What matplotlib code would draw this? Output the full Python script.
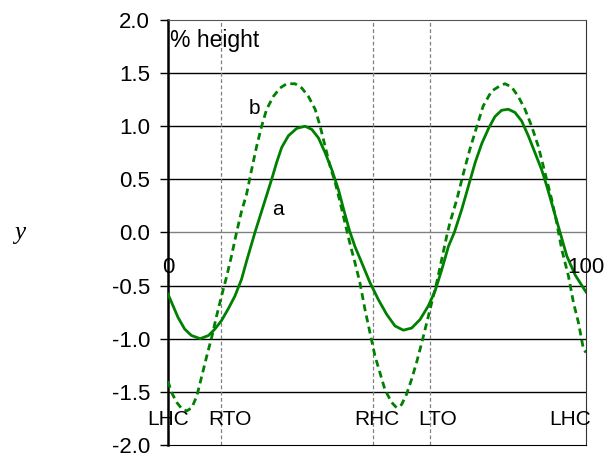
import matplotlib
matplotlib.use("Agg")
import matplotlib.pyplot as plt

# data (percent of gait cycle, % height)
xa = [0, 1.2, 2.4, 4.0, 5.6, 7.7, 9.7, 11.2, 12.8, 14.4, 16.0, 17.6, 18.8, 20.8, 22.8,
      24.8, 26.0, 27.2, 28.8, 30.8, 32.8, 34.4, 36.0, 37.6, 39.2, 40.8, 42.0, 43.4, 44.7,
      46.3, 48.3, 50.3, 52.3, 54.3, 56.3, 58.3, 60.3, 62.3, 63.9, 65.5, 67.1, 68.5, 70.3,
      71.9, 73.5, 75.1, 76.7, 78.2, 79.8, 81.4, 83.0, 84.6, 86.2, 87.8, 89.4, 90.6, 92.2,
      93.8, 95.4, 97.4, 100]
ya = [-0.58, -0.69, -0.80, -0.91, -0.97, -1.00, -0.97, -0.91, -0.83, -0.72, -0.60, -0.44, -0.27, 0.00, 0.25,
      0.50, 0.66, 0.80, 0.91, 0.98, 1.00, 0.97, 0.89, 0.75, 0.59, 0.40, 0.22, 0.02, -0.13,
      -0.28, -0.47, -0.63, -0.77, -0.88, -0.92, -0.90, -0.82, -0.69, -0.55, -0.35, -0.13, 0.00, 0.22,
      0.44, 0.66, 0.84, 0.98, 1.09, 1.15, 1.16, 1.13, 1.05, 0.91, 0.75, 0.59, 0.44, 0.22,
      0.00, -0.22, -0.40, -0.56]

xb = [0, 0.9, 2.1, 3.3, 4.5, 5.7, 6.9, 8.1, 9.3, 10.5, 11.6, 12.8, 14.0, 15.2, 16.4,
      17.6, 18.8, 20.0, 21.2, 22.4, 23.6, 25.2, 26.8, 28.4, 30.4, 32.0, 33.6, 35.2, 36.4,
      37.6, 38.8, 40.0, 41.2, 42.4, 43.5, 44.7, 45.9, 47.1, 48.3, 49.5, 50.7, 51.9, 53.5,
      54.7, 55.9, 57.1, 58.3, 59.5, 60.7, 61.9, 63.1, 64.3, 65.5, 66.7, 67.5, 69.1, 70.7,
      72.2, 73.9, 75.4, 77.4, 79.4, 80.6, 82.2, 83.8, 85.4, 87.0, 88.6, 90.2, 91.8, 93.0,
      94.2, 95.8, 97.0, 98.2, 99.4, 100]
yb = [-1.40, -1.51, -1.60, -1.66, -1.68, -1.65, -1.54, -1.35, -1.16, -0.98, -0.79, -0.60, -0.42, -0.22, 0.00,
      0.20, 0.36, 0.59, 0.81, 1.00, 1.16, 1.28, 1.36, 1.40, 1.40, 1.36, 1.28, 1.16, 1.00,
      0.81, 0.62, 0.47, 0.28, 0.08, -0.10, -0.28, -0.47, -0.72, -0.94, -1.16, -1.32, -1.48, -1.60,
      -1.65, -1.62, -1.52, -1.38, -1.22, -1.04, -0.85, -0.66, -0.47, -0.25, -0.03, 0.10, 0.31, 0.56,
      0.78, 1.00, 1.19, 1.33, 1.38, 1.40, 1.37, 1.28, 1.16, 1.00, 0.81, 0.56, 0.31, 0.09,
      -0.16, -0.41, -0.66, -0.85, -1.10, -1.13]

events = ["LHC", "RTO", "RHC", "LTO", "LHC"]
event_x = [0, 12.7, 49.0, 62.75, 100]
yticks = [-2.0, -1.5, -1.0, -0.5, 0.0, 0.5, 1.0, 1.5, 2.0]

plt.rcParams['font.family'] = ['Liberation Sans', 'DejaVu Sans']

fig = plt.figure(figsize=(6.08, 4.57), dpi=100)
ax = fig.add_axes([0.2763, 0.0265, 0.6875, 0.9297])
ax.set_xlim(0, 100)
ax.set_ylim(-2, 2)

for t in yticks:
    if t in (-2.0, 2.0):
        continue
    ax.axhline(t, color='#808080' if t == 0 else 'black', lw=1.0, zorder=1)

for ex in event_x[1:4]:
    ax.axvline(ex, color='#808080', lw=0.9, ls=(0, (3, 2)), zorder=1)

ax.plot(xa, ya, color='#008000', lw=2.0, zorder=3, solid_joinstyle='round')
ax.plot(xb, yb, color='#008000', lw=2.0, ls=(0, (2.5, 1.6)), zorder=3)

ax.set_yticks(yticks)
ax.set_yticklabels([f"{t:.1f}" for t in yticks], fontsize=16)
ax.tick_params(axis='y', direction='out', length=6, width=1, pad=7)
ax.set_xticks([])

ax.spines['left'].set_linewidth(1.8)
ax.spines['left'].set_color('black')
ax.spines['top'].set_color('#555555')
ax.spines['right'].set_color('#333333')
ax.spines['bottom'].set_color('black')

# event labels
label_x = [0, 14.8, 49.9, 64.6, 96.2]
for lx, name in zip(label_x, events):
    ax.text(lx, -1.76, name, ha='center', va='center', fontsize=15, zorder=4)

ax.text(0, -0.33, "0", ha='center', va='center', fontsize=16, clip_on=False)
ax.text(100, -0.33, "100", ha='center', va='center', fontsize=16, clip_on=False)

ax.text(0.5, 1.81, "% height", ha='left', va='center', fontsize=16.5)
ax.text(20.8, 1.17, "b", ha='center', va='center', fontsize=15)
ax.text(26.3, 0.22, "a", ha='center', va='center', fontsize=15)

fig.text(20 / 608, 1 - 233 / 457, "y", family=['Liberation Serif'], style='italic',
         fontsize=18, ha='center', va='center')

fig.savefig("out.png", dpi=100)
